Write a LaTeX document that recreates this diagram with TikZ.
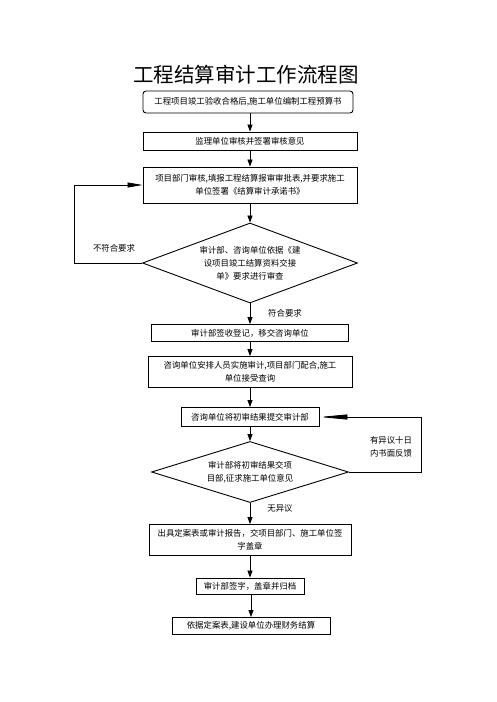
\documentclass[tikz,border=0pt]{standalone}
\usepackage{fontspec}
\setmainfont{Noto Sans CJK SC}
\usepackage{tikz}
\usetikzlibrary{arrows.meta, shapes.geometric}

\begin{document}
\begin{tikzpicture}[x=1pt, y=-1pt,
    proceso/.style={draw, rectangle, line width=0.9pt, align=center, inner sep=0pt, font=\fontsize{8.4}{13}\selectfont},
    decision/.style={draw, diamond, line width=0.9pt, align=center, inner sep=0pt, font=\fontsize{8.4}{13}\selectfont},
    flecha/.style={line width=0.8pt, -{Triangle[length=7pt, width=5pt]}},
    etiqueta/.style={font=\fontsize{8.4}{13}\selectfont, align=center}]
    \useasboundingbox (0,0) rectangle (496,702);

    % Título del diagrama
    \node (titulo) at (246,75) {\fontsize{20.5}{24}\selectfont 工程结算审计工作流程图};

    % Definir nodos del proceso
    \node (paso1) [proceso, rounded corners=3pt, minimum width=210pt, minimum height=22pt] at (248,102) {工程项目竣工验收合格后,施工单位编制工程预算书};
    \node (paso2) [proceso, minimum width=214pt, minimum height=18pt] at (250,141) {监理单位审核并签署审核意见};
    \node (paso3) [proceso, minimum width=214pt, minimum height=36pt] at (250,185) {项目部门审核,填报工程结算报审审批表,并要求施工\\单位签署《结算审计承诺书》};
    \node (revision1) [decision, aspect=2.7, minimum width=215pt, minimum height=80pt] at (250,263) {审计部、咨询单位依据《建\\设项目竣工结算资料交接\\单》要求进行审查};
    \node (paso4) [proceso, minimum width=197pt, minimum height=17pt] at (250,333) {审计部签收登记，移交咨询单位};
    \node (paso5) [proceso, minimum width=204pt, minimum height=31pt] at (250,372) {咨询单位安排人员实施审计,项目部门配合,施工\\单位接受查询};
    \node (paso6) [proceso, minimum width=138pt, minimum height=19pt] at (250,417) {咨询单位将初审结果提交审计部};
    \node (revision2) [decision, aspect=3.2, minimum width=197pt, minimum height=61pt] at (250,472) {审计部将初审结果交项\\目部,征求施工单位意见};
    \node (paso7) [proceso, minimum width=202pt, minimum height=31pt] at (250,540) {出具定案表或审计报告，交项目部门、施工单位签\\字盖章};
    \node (paso8) [proceso, minimum width=108pt, minimum height=16pt] at (250,586) {审计部签字，盖章并归档};
    \node (paso9) [proceso, minimum width=158pt, minimum height=17pt] at (251,626) {依据定案表,建设单位办理财务结算};

    % Dibujar flechas del flujo principal
    \draw[flecha] (paso1.south -| paso2.north) -- (paso2.north);
    \draw[flecha] (paso2) -- (paso3);
    \draw[flecha] (paso3) -- (revision1);
    \draw[flecha] (revision1) -- (paso4);
    \draw[flecha] (paso4) -- (paso5);
    \draw[flecha] (paso5) -- (paso6);
    \draw[flecha] (paso6) -- (revision2);
    \draw[flecha] (revision2) -- (paso7);
    \draw[flecha] (paso7) -- (paso8);
    \draw[flecha] (paso8.south -| paso9.north) -- (paso9.north);

    % Retornos
    \draw[line width=0.8pt, -{Triangle[length=15pt, width=5pt]}] (revision1.west) -- ++(-68,0) |- (paso3.west);
    \draw[line width=0.8pt, -{Triangle[length=28pt, width=5pt]}] (revision2.east) -- ++(72,0) |- (paso6.east);

    % Etiquetas de las decisiones
    \node (nocumple) [etiqueta] at (114,248) {不符合要求};
    \node (cumple) [etiqueta] at (285,313) {符合要求};
    \node (objecion) [etiqueta] at (391,447) {有异议十日\\内书面反馈};
    \node (sinobjecion) [etiqueta] at (280,508) {无异议};
\end{tikzpicture}
\end{document}
